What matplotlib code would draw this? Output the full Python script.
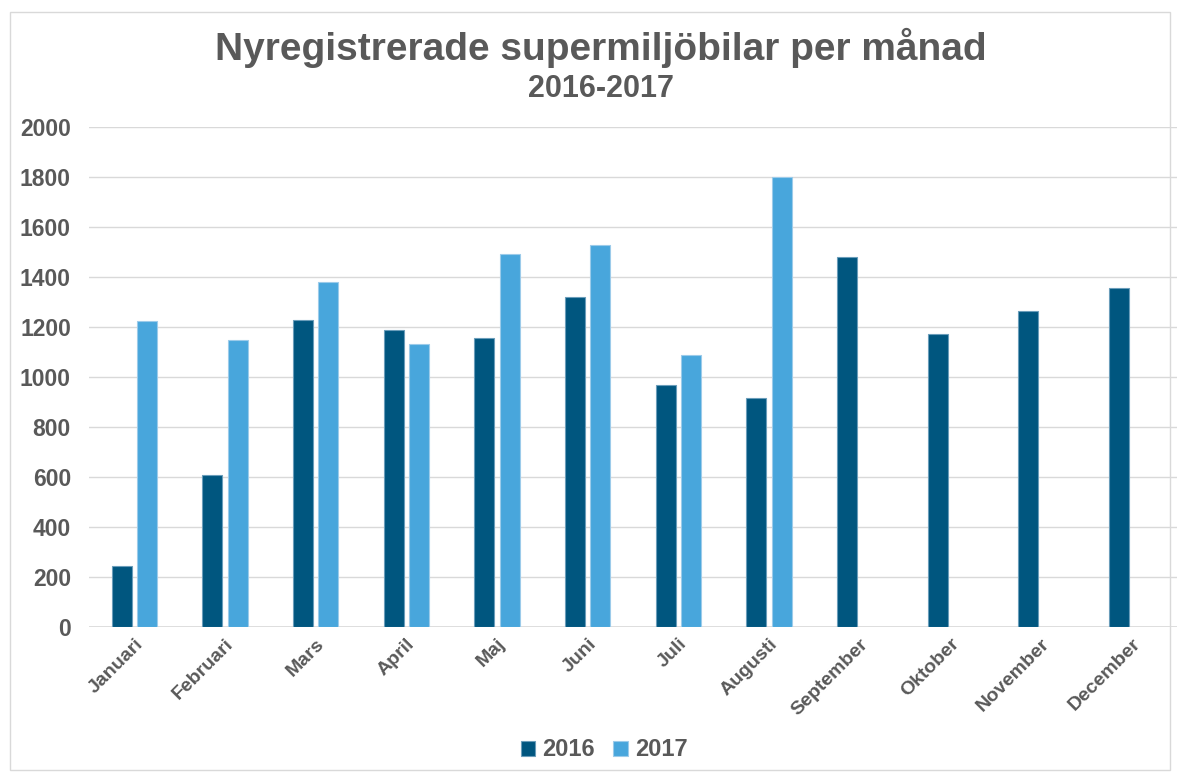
import numpy as np
import matplotlib
matplotlib.use("Agg")
import matplotlib.pyplot as plt
from matplotlib.patches import Rectangle

# === Data ===
months = ["Januari", "Februari", "Mars", "April", "Maj", "Juni", "Juli",
          "Augusti", "September", "Oktober", "November", "December"]
y2016 = [244, 608, 1228, 1188, 1156, 1320, 968, 916, 1480, 1172, 1264, 1356]
y2017 = [1224, 1148, 1380, 1132, 1492, 1528, 1088, 1800]

c2016 = "#00567F"
c2017 = "#48A6DC"
grey = "#595959"

plt.rcParams["font.family"] = ["Liberation Sans", "DejaVu Sans"]

fig = plt.figure(figsize=(11.79, 7.73), dpi=100)
# light frame round the chart
fig.patches.append(Rectangle((10 / 1179, 3 / 773), 1160 / 1179, 758 / 773,
                             transform=fig.transFigure, fill=False,
                             edgecolor="#D9D9D9", linewidth=1))

ax = fig.add_axes([89 / 1179, 1 - 627 / 773, 1088 / 1179, 500 / 773])

x = np.arange(len(months))
w = 0.22
off = 0.14
ax.bar(x[:len(y2016)] - off, y2016, width=w, color=c2016,
       edgecolor="#6A9DBA", linewidth=0.8, label="2016", zorder=3)
ax.bar(x[:len(y2017)] + off, y2017, width=w, color=c2017,
       edgecolor="#9CCBEA", linewidth=0.8, label="2017", zorder=3)

ax.set_xlim(-0.5, len(months) - 0.5)
ax.set_ylim(0, 2000)
ax.set_yticks(range(0, 2001, 200))
ax.yaxis.grid(True, color="#D9D9D9", linewidth=1, zorder=0)
for s in ax.spines.values():
    s.set_visible(False)
ax.axhline(0, color="#D9D9D9", linewidth=1.2, zorder=2)
ax.tick_params(length=0)
ax.tick_params(axis="y", pad=13)
ax.tick_params(axis="x", pad=6)

ax.set_xticks(x)
ax.set_xticklabels(months, rotation=45, ha="right", rotation_mode="anchor",
                   fontsize=14, fontweight="bold", color=grey)
for lbl in ax.get_yticklabels():
    lbl.set_fontsize(16.5)
    lbl.set_fontweight("bold")
    lbl.set_color(grey)

fig.text(601 / 1179, 1 - 48 / 773, "Nyregistrerade supermiljöbilar per månad",
         ha="center", va="center", fontsize=28, fontweight="bold", color=grey)
fig.text(601 / 1179, 1 - 89 / 773, "2016-2017", ha="center", va="center",
         fontsize=22, fontweight="bold", color=grey)

leg = fig.legend(loc="center", bbox_to_anchor=(604 / 1179, 1 - 750 / 773), ncol=2,
                 frameon=False, handlelength=0.6, handleheight=0.6,
                 handletextpad=0.3, columnspacing=0.8,
                 prop={"weight": "bold", "size": 17})
for t in leg.get_texts():
    t.set_color(grey)

plt.savefig("out.png", dpi=100)
